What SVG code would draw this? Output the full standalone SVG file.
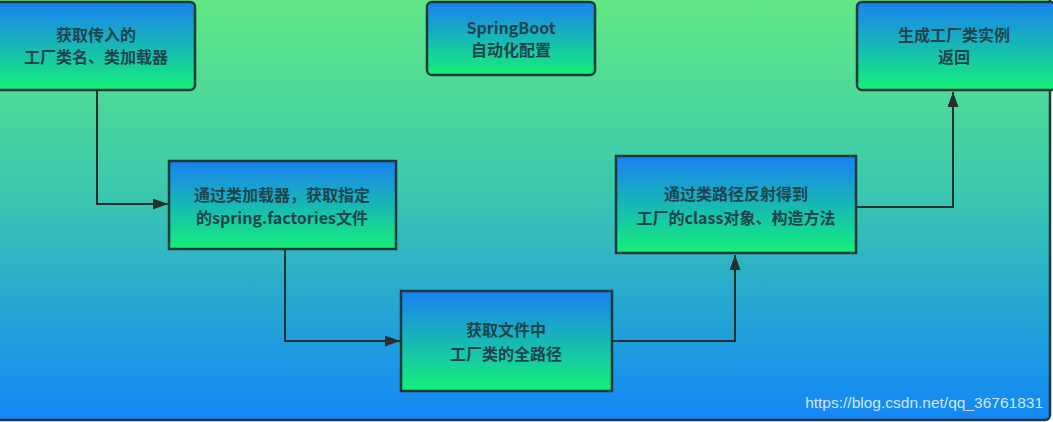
<svg xmlns="http://www.w3.org/2000/svg" width="1053" height="422" viewBox="0 0 1053 422">
<defs>
<linearGradient id="bg" x1="0" y1="0" x2="0" y2="1">
<stop offset="0" stop-color="#62e885"/>
<stop offset="0.45" stop-color="#3cc9ad"/>
<stop offset="1" stop-color="#1287f6"/>
</linearGradient>
<linearGradient id="ng" x1="0" y1="0" x2="0" y2="1">
<stop offset="0" stop-color="#1a80f2"/>
<stop offset="1" stop-color="#14f078"/>
</linearGradient>
<marker id="ah" viewBox="0 0 15 11" refX="15" refY="5.5" markerWidth="15" markerHeight="11" markerUnits="userSpaceOnUse" orient="auto">
<path d="M0,0 L15,5.5 L0,11 Z" fill="#2a2d2d"/>
</marker>
</defs>
<style>
.node{fill:url(#ng);stroke:#1d3a3a;stroke-width:2.5}
.t{font-family:"Noto Sans CJK SC","Noto Sans",sans-serif;font-size:16px;font-weight:bold;fill:#1f4450;text-anchor:middle}
.c{fill:none;stroke:#2a2d2d;stroke-width:2}
</style>
<rect x="-4" y="-4" width="1054" height="424" rx="5" fill="url(#bg)" stroke="#25353a" stroke-width="2.5"/>
<g id="connectors">
<path class="c" d="M97,90 V204 H168" marker-end="url(#ah)"/>
<path class="c" d="M285,249 V341 H400" marker-end="url(#ah)"/>
<path class="c" d="M612,341 H735 V255" marker-end="url(#ah)"/>
<path class="c" d="M856,207 H953 V92" marker-end="url(#ah)"/>
</g>
<g id="n1">
<rect class="node" x="-6" y="2" width="201" height="88" rx="5"/>
<text class="t" x="96" y="41">获取传入的</text>
<text class="t" x="96" y="63">工厂类名、类加载器</text>
</g>
<g id="n2">
<rect class="node" x="427" y="2" width="168" height="73" rx="5"/>
<text class="t" x="511" y="34">SpringBoot</text>
<text class="t" x="511" y="56">自动化配置</text>
</g>
<g id="n3">
<rect class="node" x="857" y="2" width="200" height="88" rx="5"/>
<text class="t" x="954" y="41">生成工厂类实例</text>
<text class="t" x="954" y="63">返回</text>
</g>
<g id="n4">
<rect class="node" x="169" y="161" width="227" height="88"/>
<text class="t" x="282" y="201">通过类加载器，获取指定</text>
<text class="t" x="282" y="224">的spring.factories文件</text>
</g>
<g id="n5">
<rect class="node" x="401" y="291" width="211" height="100"/>
<text class="t" x="506" y="336">获取文件中</text>
<text class="t" x="506" y="360">工厂类的全路径</text>
</g>
<g id="n6">
<rect class="node" x="616" y="156" width="240" height="97"/>
<text class="t" x="736" y="200">通过类路径反射得到</text>
<text class="t" x="736" y="224">工厂的class对象、构造方法</text>
</g>
<text x="1043" y="408" font-family="Liberation Sans, Arial, sans-serif" font-size="15.5" fill="#d3e6f7" text-anchor="end">https://blog.csdn.net/qq_36761831</text>
</svg>
